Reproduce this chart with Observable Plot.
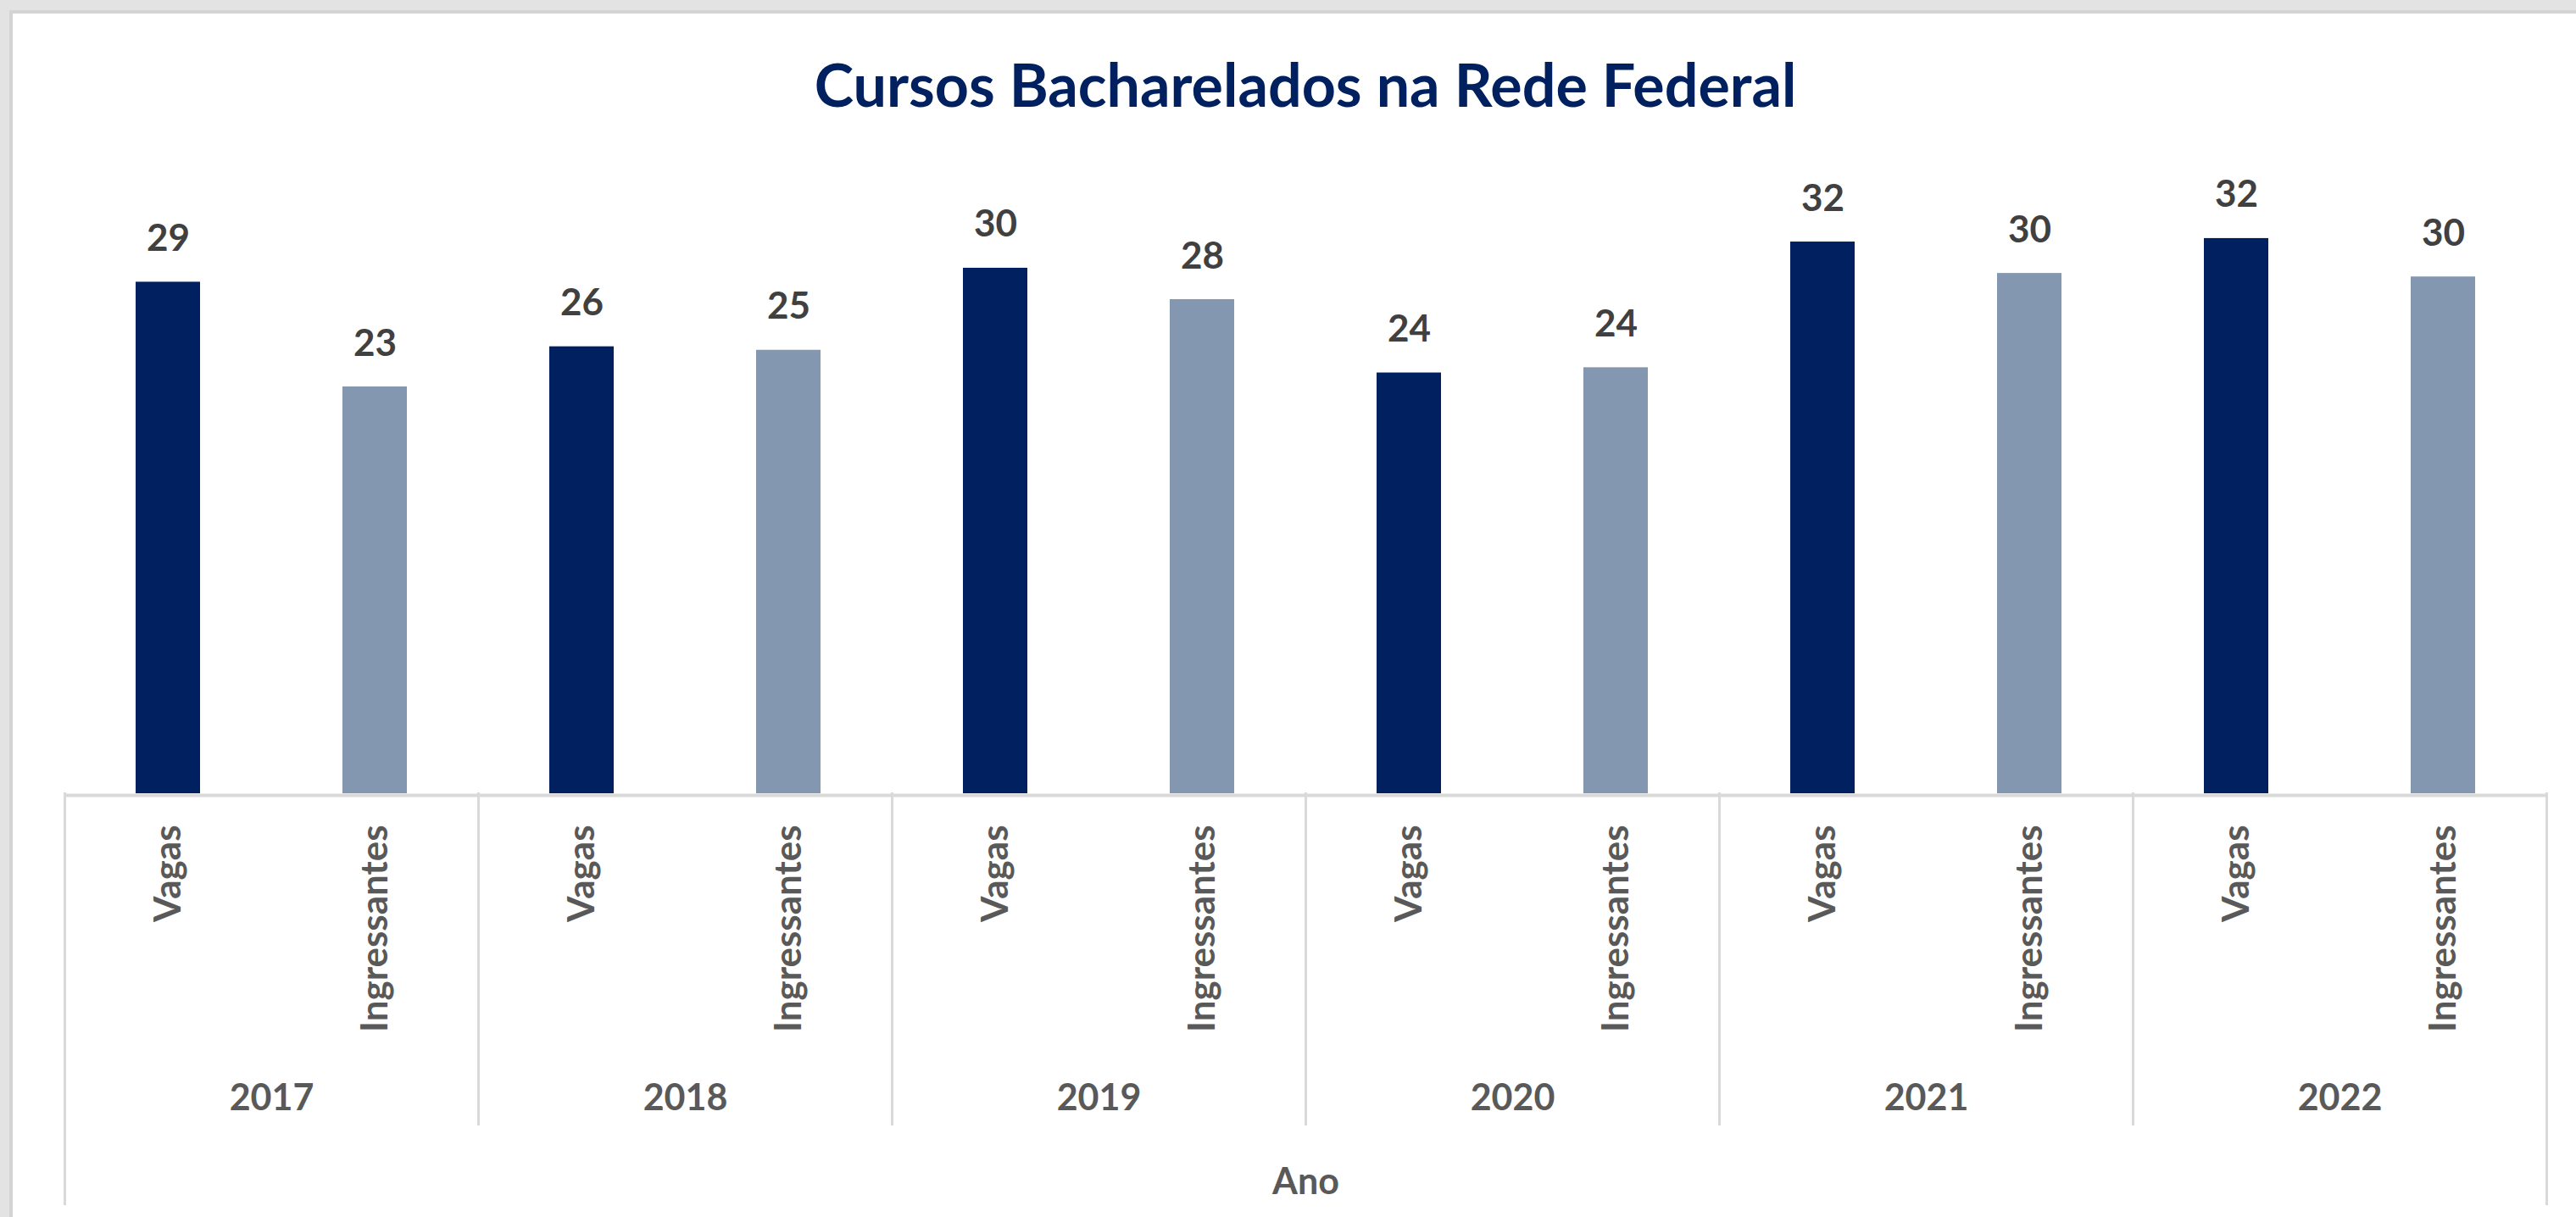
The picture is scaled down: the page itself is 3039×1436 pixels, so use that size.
<!DOCTYPE html>
<html><head><meta charset="utf-8">
<script src="https://cdn.jsdelivr.net/npm/d3@7"></script>
<script src="https://cdn.jsdelivr.net/npm/@observablehq/plot@0.6"></script>
<style>
html,body{margin:0;padding:0;}
body{width:3039px;height:1436px;background:#e3e3e3;position:relative;overflow:hidden;font-family:Lato,"Open Sans",sans-serif;}
#panel{position:absolute;left:11px;top:12px;right:0;bottom:0;background:#fff;border-left:4px solid #d4d4d4;border-top:4px solid #d4d4d4;}
#title{position:absolute;left:74px;width:2932px;top:64px;text-align:center;font-weight:700;font-size:70px;line-height:1;color:#002060;margin:0;font-family:Lato,"Open Sans",sans-serif;}
#chart{position:absolute;left:0;top:150px;}
</style></head><body>
<div id="panel"></div>
<h1 id="title">Cursos Bacharelados na Rede Federal</h1>
<div id="chart"></div>
<script>
// ---- data ----
const anos = ["2017", "2018", "2019", "2020", "2021", "2022"];
const series = ["Vagas", "Ingressantes"];
const vagas = [29.3, 25.6, 30.1, 24.1, 31.6, 31.8];
const ingressantes = [23.3, 25.4, 28.3, 24.4, 29.8, 29.6];
const eixoTitulo = "Ano";
const cores = ["#002060", "#8497B0"];

const dados = [];
anos.forEach((ano, i) => {
  dados.push({ano, serie: series[0], valor: vagas[i]});
  dados.push({ano, serie: series[1], valor: ingressantes[i]});
});
const fmt = d3.format(".0f");
const grid = "#d9d9d9";

const chart = Plot.plot({
  width: 3039,
  height: 1286,
  marginLeft: 74,
  marginRight: 33,
  marginTop: 65,
  marginBottom: 500,
  style: {background: "transparent", fontFamily: "Lato, 'Open Sans', sans-serif", overflow: "visible"},
  fx: {domain: anos, padding: 0},
  x: {domain: series, paddingInner: 0.689, paddingOuter: 0.3445, align: 0.5},
  y: {domain: [0, 35], axis: null},
  color: {domain: series, range: cores},
  marks: [
    Plot.barY(dados, {fx: "ano", x: "serie", y: "valor", fill: "serie"}),
    Plot.ruleY([0], {stroke: grid, strokeWidth: 4, dy: 2}),
    Plot.text(dados, {fx: "ano", x: "serie", y: "valor", text: d => fmt(d.valor), dy: -37, lineAnchor: "bottom", fontSize: 44, fontWeight: 700, fill: "#404040"}),
    Plot.axisX({tickRotate: -90, tickSize: 0, tickPadding: 37, fontSize: 44, fontWeight: 700, color: "#595959", label: null}),
    Plot.axisFx({anchor: "bottom", tickSize: 0, tickPadding: 343, fontSize: 43, fontWeight: 700, color: "#595959", label: eixoTitulo, labelAnchor: "center", labelOffset: 472}),
    Plot.frame({anchor: "left", stroke: grid, strokeWidth: 3, insetTop: 721, insetBottom: -390}),
    Plot.frame({anchor: "left", facetAnchor: "left", stroke: grid, strokeWidth: 3, insetTop: 721, insetBottom: -484}),
    Plot.frame({anchor: "right", facetAnchor: "right", stroke: grid, strokeWidth: 3, insetTop: 721, insetBottom: -484})
  ]
});
document.getElementById("chart").appendChild(chart);
</script>
</body></html>
